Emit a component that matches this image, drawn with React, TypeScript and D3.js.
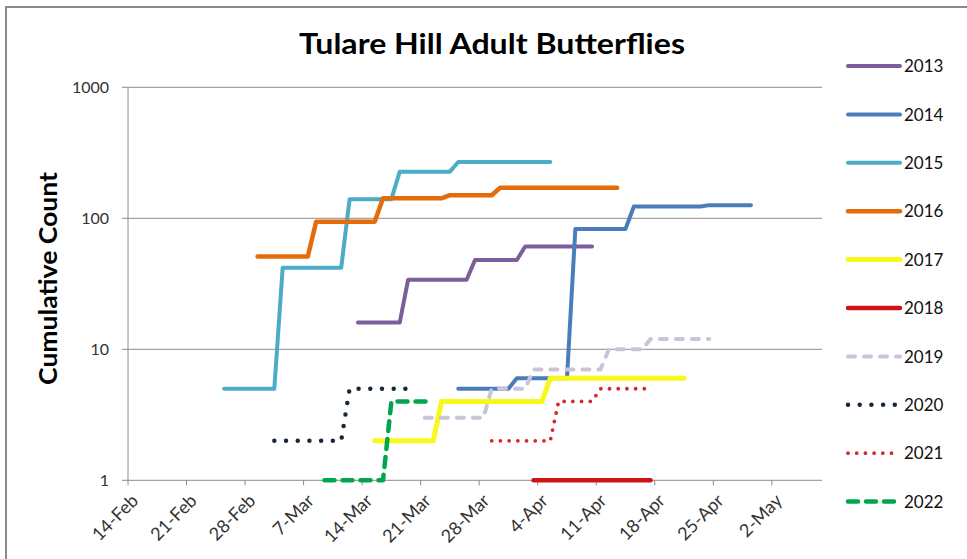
import React from 'react';
import * as d3 from 'd3';

// cumulative counts per season, [month-day, count]
const s2013: [string, number][] = [['03-14', 16], ['03-19', 16], ['03-20', 34], ['03-27', 34], ['03-28', 48], ['04-02', 48], ['04-03', 61], ['04-11', 61]];
const s2014: [string, number][] = [['03-26', 5], ['04-01', 5], ['04-02', 6], ['04-08', 6], ['04-09', 83], ['04-15', 83], ['04-16', 123], ['04-24', 123], ['04-25', 126], ['04-30', 126]];
const s2015: [string, number][] = [['02-26', 5], ['03-04', 5], ['03-05', 42], ['03-12', 42], ['03-13', 140], ['03-18', 140], ['03-19', 227], ['03-25', 227], ['03-26', 269], ['04-06', 269]];
const s2016: [string, number][] = [['03-02', 51], ['03-08', 51], ['03-09', 94], ['03-16', 94], ['03-17', 142], ['03-24', 142], ['03-25', 150], ['03-30', 150], ['03-31', 171], ['04-14', 171]];
const s2017: [string, number][] = [['03-16', 2], ['03-23', 2], ['03-24', 4], ['04-05', 4], ['04-06', 6], ['04-22', 6]];
const s2018: [string, number][] = [['04-04', 1], ['04-18', 1]];
const s2019: [string, number][] = [['03-22', 3], ['03-29', 3], ['03-30', 5], ['04-03', 5], ['04-04', 7], ['04-12', 7], ['04-13', 10], ['04-17', 10], ['04-18', 12], ['04-25', 12]];
const s2020: [string, number][] = [['03-04', 2], ['03-12', 2], ['03-13', 5], ['03-21', 5]];
const s2021: [string, number][] = [['03-30', 2], ['04-06', 2], ['04-07', 4], ['04-11', 4], ['04-12', 5], ['04-18', 5]];
const s2022: [string, number][] = [['03-10', 1], ['03-17', 1], ['03-18', 4], ['03-23', 4]];

const years = ['2013', '2014', '2015', '2016', '2017', '2018', '2019', '2020', '2021', '2022'];
const yTicks = [1, 10, 100, 1000];
const xTickLabels = ['14-Feb', '21-Feb', '28-Feb', '7-Mar', '14-Mar', '21-Mar', '28-Mar', '4-Apr', '11-Apr', '18-Apr', '25-Apr', '2-May'];

const styles = [
  { color: '#7b5e9b', width: 4, dash: null },
  { color: '#4a7ebb', width: 4, dash: null },
  { color: '#4bacc6', width: 4, dash: null },
  { color: '#e46c0a', width: 4.5, dash: null },
  { color: '#f8f81c', width: 5, dash: null },
  { color: '#cc1414', width: 4.5, dash: null },
  { color: '#c9c4d9', width: 4, dash: '7 9' },
  { color: '#17263a', width: 4.5, dash: '0 11.7' },
  { color: '#d42a2a', width: 3.8, dash: '0 8.7' },
  { color: '#00a550', width: 4.5, dash: '10 8' },
];

const parse = d3.timeParse('%Y-%m-%d');
const toDate = (md: string) => parse('2021-' + md) as Date;
const HALF_DAY = 12 * 3600 * 1000;

const W = 967;
const H = 559;
const font = 'Lato, "Open Sans", sans-serif';

export default function App() {
  const x = d3.scaleTime()
    .domain([new Date(2021, 1, 14, 12), new Date(2021, 4, 8, 12)])
    .range([128, 822]);
  const y = d3.scaleLog().domain([1, 1000]).range([480.3, 87.3]);

  const series = [s2013, s2014, s2015, s2016, s2017, s2018, s2019, s2020, s2021, s2022]
    .map((s, i) => ({ year: years[i], pts: s.map(([d, v]) => [toDate(d), v] as [Date, number]), ...styles[i] }));

  const line = d3.line<[Date, number]>()
    .x(d => x(d[0]))
    .y(d => y(d[1]));

  // labels sit half a day right of the data dates (Excel date axis)
  const xTicks = xTickLabels.map(l => {
    const d = d3.timeParse('%d-%b-%Y')(l + '-2021') as Date;
    return { label: l, pos: x(new Date(d.getTime() + HALF_DAY)) };
  });

  const [x0, x1] = x.range();

  return (
    <svg width={W} height={H} style={{ position: 'absolute', left: 0, top: 0, background: '#fff' }}>
      <rect x={6} y={7} width={1000} height={600} fill="#fff" stroke="#8a8a8a" strokeWidth={2} />

      <text x={492} y={54} textAnchor="middle" fontFamily={font} fontWeight="bold" fontSize={28}
        textLength={386} lengthAdjust="spacingAndGlyphs" fill="#000">Tulare Hill Adult Butterflies</text>

      {/* gridlines + y axis */}
      {yTicks.map(t => (
        <g key={t}>
          <line x1={x0} x2={x1} y1={y(t)} y2={y(t)} stroke="#8c8c8c" strokeWidth={1} />
          <line x1={x0 - 6} x2={x0} y1={y(t)} y2={y(t)} stroke="#8c8c8c" strokeWidth={1} />
          <text x={109} y={y(t)} dy="0.35em" textAnchor="end" fontFamily={font} fontSize={16} fill="#333">{t}</text>
        </g>
      ))}
      <line x1={x0} x2={x0} y1={y(1000)} y2={y(1)} stroke="#8c8c8c" strokeWidth={1} />

      {xTicks.map(t => (
        <g key={t.label}>
          <line x1={t.pos} x2={t.pos} y1={y(1)} y2={y(1) + 5} stroke="#8c8c8c" strokeWidth={1} />
          <text transform={`translate(${t.pos + 7},${y(1) + 17}) rotate(-45)`} dy="0.35em" textAnchor="end"
            fontFamily={font} fontSize={18} fill="#333">{t.label}</text>
        </g>
      ))}

      <text transform={`translate(56.7,278.5) rotate(-90)`} textAnchor="middle" fontFamily={font} fontWeight="bold"
        fontSize={25} textLength={213} lengthAdjust="spacingAndGlyphs" fill="#000">Cumulative Count</text>

      {series.map(s => (
        <path key={s.year} d={line(s.pts) || ''} fill="none" stroke={s.color} strokeWidth={s.width}
          strokeLinecap="round" strokeLinejoin="round" strokeDasharray={s.dash || undefined} />
      ))}

      {series.map((s, i) => {
        const ly = 66 + i * 48.4;
        return (
          <g key={'lg' + s.year}>
            <line x1={848} x2={900} y1={ly} y2={ly} stroke={s.color} strokeWidth={s.width}
              strokeLinecap="round" strokeDasharray={s.dash || undefined} />
            <text x={904} y={ly} dy="0.36em" fontFamily={font} fontSize={17} fill="#111">{s.year}</text>
          </g>
        );
      })}
    </svg>
  );
}
